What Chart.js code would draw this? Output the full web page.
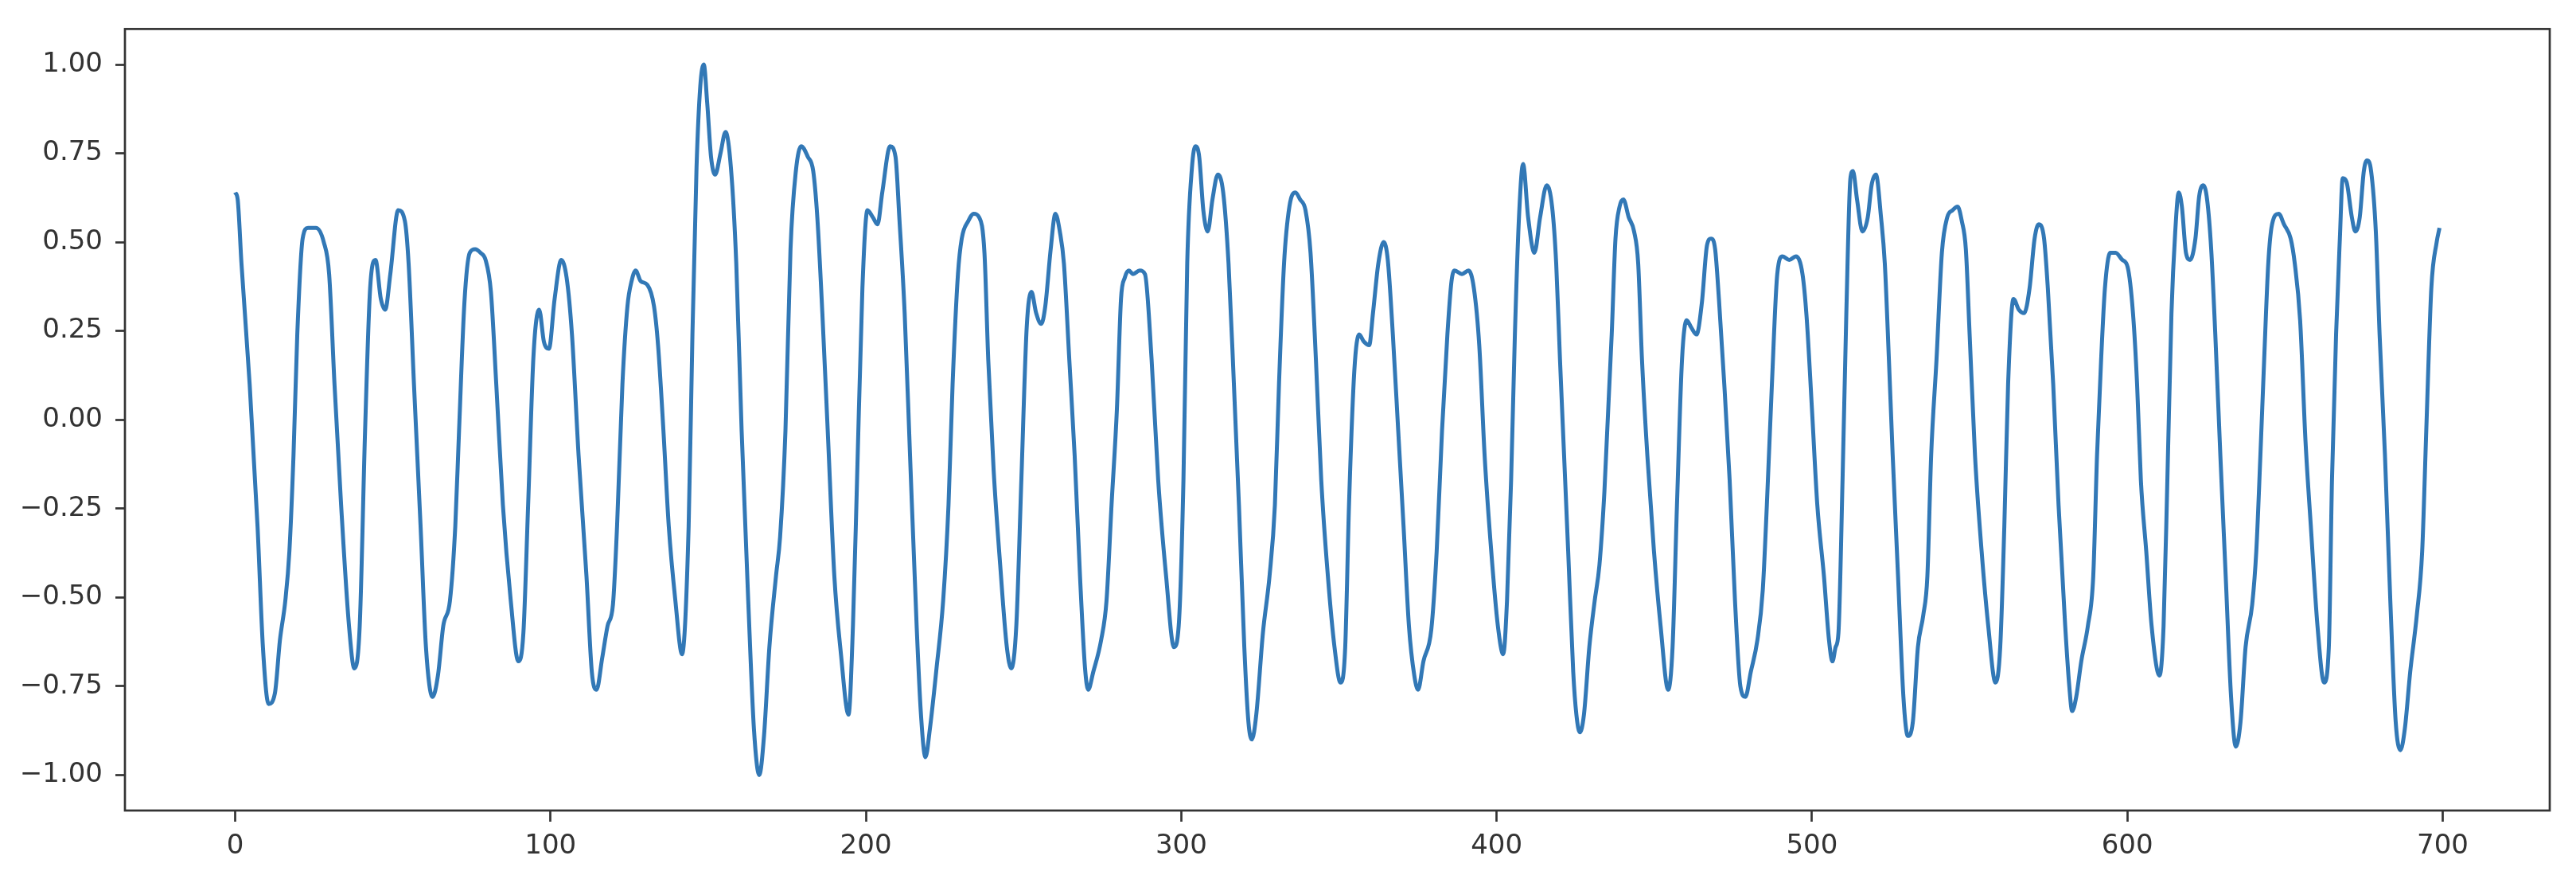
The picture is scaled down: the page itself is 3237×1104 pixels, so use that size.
<!DOCTYPE html>
<html>
<head>
<meta charset="utf-8">
<title>signal</title>
<script src="https://cdn.jsdelivr.net/npm/chart.js@4.4.1/dist/chart.umd.min.js"></script>
<style>
  html, body { margin: 0; padding: 0; background: #fff; }
  #wrap { width: 3237px; height: 1104px; }
</style>
</head>
<body>
<div id="wrap"><canvas id="sigChart" width="3237" height="1104"></canvas></div>
<script>
// sample positions (x axis)
const sampleIdx = [
    0, 0.8, 2.0, 4.6, 7.1, 8.8, 10.6, 12.6, 14.2, 15.9, 17.2, 18.5, 19.7, 21.4, 23.1, 25.6, 28.1, 29.8,
    31.5, 33.6, 36.1, 37.8, 39.5, 41.2, 42.8, 44.5, 46.2, 47.6, 49.2, 51.7, 53.8, 55.0, 56.7, 58.8,
    60.5, 62.6, 64.3, 66.0, 68.1, 69.8, 71.0, 72.7, 74.4, 76.1, 77.8, 79.4, 81.1, 82.8, 84.9, 87.4,
    89.8, 91.4, 92.9, 94.6, 96.4, 97.9, 99.5, 101.3, 103.4, 105.1, 106.8, 108.9, 111.4, 113.1, 114.6,
    116.4, 118.1, 119.8, 121.1, 122.8, 124.4, 125.7, 127.0, 128.6, 130.7, 132.8, 134.1, 135.8, 137.5,
    139.6, 141.7, 143.8, 145.0, 146.3, 147.5, 148.6, 149.7, 150.9, 152.2, 153.9, 155.5, 157.2, 158.9,
    160.6, 162.7, 164.5, 166.2, 167.7, 169.4, 171.5, 172.8, 174.5, 176.1, 177.8, 179.5, 181.6, 183.3,
    184.6, 186.2, 187.9, 190.0, 192.1, 194.5, 195.9, 197.2, 198.9, 200.5, 202.2, 203.7, 205.2, 207.7,
    209.4, 210.6, 212.3, 214.0, 216.1, 217.4, 218.9, 220.3, 222.4, 224.5, 226.2, 227.5, 229.2, 230.4,
    232.5, 234.2, 235.9, 237.6, 238.8, 240.5, 242.6, 244.7, 246.1, 247.7, 249.3, 251.0, 252.5, 254.0,
    255.6, 256.9, 258.6, 260.1, 261.5, 262.8, 264.5, 266.2, 267.9, 269.5, 270.5, 272.1, 274.6, 276.3,
    277.9, 279.6, 280.9, 282.1, 283.4, 284.7, 286.8, 288.5, 290.6, 292.7, 295.2, 297.7, 299.2, 300.7,
    301.9, 303.4, 304.5, 305.7, 307.0, 308.4, 309.9, 311.6, 313.3, 315.0, 316.7, 318.3, 320.0, 321.3,
    322.4, 323.8, 325.9, 328.0, 329.7, 331.0, 332.6, 334.3, 336.2, 337.7, 339.4, 341.0, 342.7, 344.4,
    346.5, 348.6, 350.5, 352.0, 353.2, 354.9, 356.4, 357.9, 359.6, 360.8, 362.5, 364.2, 365.5, 367.1,
    368.8, 370.5, 372.2, 373.9, 375.1, 376.8, 379.3, 381.0, 382.7, 384.4, 385.7, 386.7, 389.0, 391.1,
    392.8, 394.5, 396.2, 398.3, 400.4, 402.1, 403.3, 404.6, 405.8, 407.1, 408.4, 410.0, 412.0, 413.8,
    415.9, 417.6, 418.9, 420.1, 421.4, 422.7, 424.3, 425.3, 426.4, 427.7, 429.4, 431.1, 432.6, 434.2,
    436.5, 437.7, 439.0, 440.2, 441.9, 443.6, 444.9, 446.1, 447.8, 449.9, 452.0, 454.4, 455.8, 457.2,
    458.8, 460.3, 461.7, 463.4, 465.1, 466.7, 468.0, 469.3, 470.5, 472.2, 473.9, 475.6, 477.3, 478.9,
    480.6, 482.7, 484.4, 485.7, 487.3, 489.0, 490.7, 492.8, 494.9, 497.0, 498.3, 500.0, 501.7, 503.8,
    505.4, 506.5, 507.5, 508.4, 509.7, 510.9, 512.2, 513.0, 514.3, 516.0, 517.7, 518.9, 520.3, 521.9,
    523.1, 524.4, 525.6, 527.3, 529.0, 530.4, 532.0, 533.6, 535.3, 536.6, 537.8, 539.5, 541.2, 542.9,
    544.6, 546.2, 547.5, 548.8, 550.0, 551.7, 553.8, 555.9, 558.2, 559.7, 561.0, 562.2, 563.9, 565.6,
    567.3, 569.0, 570.6, 571.9, 573.6, 574.8, 576.5, 578.2, 580.3, 581.6, 582.5, 583.8, 585.4, 587.5,
    589.2, 590.4, 591.7, 592.9, 594.6, 596.3, 598.4, 600.1, 601.8, 603.1, 604.3, 606.0, 607.7, 610.2,
    611.5, 612.7, 614.0, 615.2, 616.3, 617.3, 618.6, 619.9, 621.6, 622.8, 624.1, 625.3, 626.6, 627.9,
    629.5, 631.2, 632.9, 634.4, 635.9, 637.5, 639.6, 640.9, 642.2, 643.4, 644.7, 645.9, 648.0, 649.7,
    651.8, 653.1, 654.8, 656.5, 658.2, 660.3, 662.4, 663.9, 664.9, 666.2, 667.4, 668.3, 669.5, 671.2,
    672.3, 673.7, 675.0, 676.0, 677.3, 678.8, 680.0, 681.7, 683.4, 685.1, 686.6, 688.0, 689.7, 691.8,
    693.5, 694.8, 696.4, 698.1, 699
];

// signal value at each of those positions
const signal = [
    0.64, 0.62, 0.44, 0.10, -0.30, -0.64, -0.80, -0.77, -0.62, -0.51, -0.37, -0.10, 0.24, 0.51, 0.54, 0.54, 0.50, 0.41,
    0.10, -0.24, -0.58, -0.70, -0.58, -0.03, 0.37, 0.45, 0.34, 0.31, 0.41, 0.59, 0.56, 0.44, 0.10, -0.30,
    -0.64, -0.78, -0.72, -0.58, -0.51, -0.30, -0.03, 0.33, 0.47, 0.48, 0.47, 0.45, 0.36, 0.10, -0.24, -0.51,
    -0.68, -0.60, -0.24, 0.18, 0.31, 0.22, 0.20, 0.34, 0.45, 0.40, 0.24, -0.10, -0.44, -0.71, -0.76,
    -0.67, -0.58, -0.52, -0.30, 0.10, 0.32, 0.39, 0.42, 0.39, 0.38, 0.32, 0.21, -0.03, -0.30,
    -0.51, -0.66, -0.30, 0.24, 0.71, 0.94, 1.00, 0.89, 0.74, 0.69, 0.75, 0.81, 0.71, 0.44,
    -0.03, -0.51, -0.87, -1.00, -0.89, -0.64, -0.44, -0.33, -0.03, 0.48, 0.70, 0.77, 0.74, 0.70,
    0.57, 0.30, -0.03, -0.44, -0.66, -0.83, -0.58, -0.17, 0.37, 0.59, 0.57, 0.55, 0.64, 0.77,
    0.74, 0.57, 0.30, -0.10, -0.58, -0.82, -0.95, -0.87, -0.70, -0.51, -0.24, 0.10, 0.41, 0.51,
    0.56, 0.58, 0.57, 0.47, 0.17, -0.14, -0.41, -0.64, -0.70, -0.58, -0.17, 0.26, 0.36, 0.30,
    0.27, 0.32, 0.48, 0.58, 0.53, 0.44, 0.17, -0.10, -0.44, -0.70, -0.76, -0.71, -0.62, -0.51,
    -0.24, 0.03, 0.34, 0.40, 0.42, 0.41, 0.42, 0.41, 0.17, -0.17, -0.44, -0.64, -0.58, -0.17,
    0.44, 0.71, 0.77, 0.74, 0.59, 0.53, 0.62, 0.69, 0.64, 0.44, 0.10, -0.24, -0.64, -0.85,
    -0.90, -0.83, -0.60, -0.44, -0.24, 0.10, 0.44, 0.60, 0.64, 0.62, 0.59, 0.47, 0.17, -0.17,
    -0.44, -0.64, -0.74, -0.64, -0.24, 0.14, 0.24, 0.22, 0.21, 0.30, 0.44, 0.50, 0.45, 0.24,
    -0.03, -0.30, -0.58, -0.72, -0.76, -0.68, -0.59, -0.37, -0.03, 0.24, 0.39, 0.42, 0.41, 0.42,
    0.37, 0.21, -0.10, -0.37, -0.58, -0.66, -0.51, -0.17, 0.24, 0.57, 0.72, 0.57, 0.47, 0.57,
    0.66, 0.60, 0.44, 0.17, -0.10, -0.37, -0.71, -0.83, -0.88, -0.83, -0.64, -0.51, -0.41, -0.20,
    0.24, 0.51, 0.60, 0.62, 0.57, 0.53, 0.44, 0.17, -0.10, -0.37, -0.58, -0.76, -0.64, -0.24,
    0.17, 0.28, 0.26, 0.24, 0.33, 0.49, 0.51, 0.48, 0.34, 0.10, -0.17, -0.51, -0.75, -0.78,
    -0.71, -0.62, -0.48, -0.24, 0.10, 0.41, 0.46, 0.45, 0.46, 0.41, 0.29, 0.03, -0.24, -0.44,
    -0.62, -0.68, -0.64, -0.60, -0.17, 0.30, 0.68, 0.70, 0.62, 0.53, 0.57, 0.66, 0.69, 0.57,
    0.44, 0.17, -0.10, -0.44, -0.78, -0.89, -0.85, -0.64, -0.55, -0.44, -0.10, 0.17, 0.47, 0.57,
    0.59, 0.60, 0.56, 0.48, 0.24, -0.10, -0.37, -0.58, -0.74, -0.64, -0.30, 0.10, 0.34, 0.31,
    0.30, 0.37, 0.51, 0.55, 0.51, 0.37, 0.10, -0.24, -0.58, -0.75, -0.82, -0.78, -0.68, -0.58,
    -0.44, -0.10, 0.17, 0.37, 0.47, 0.47, 0.45, 0.43, 0.30, 0.10, -0.17, -0.37, -0.58, -0.72,
    -0.58, -0.17, 0.30, 0.53, 0.64, 0.60, 0.47, 0.45, 0.51, 0.63, 0.66, 0.62, 0.48, 0.24,
    -0.10, -0.44, -0.78, -0.92, -0.85, -0.64, -0.52, -0.37, -0.10, 0.17, 0.44, 0.55, 0.58, 0.55,
    0.51, 0.44, 0.28, -0.06, -0.30, -0.58, -0.74, -0.64, -0.17, 0.24, 0.51, 0.68, 0.67, 0.57,
    0.53, 0.57, 0.70, 0.73, 0.70, 0.53, 0.24, -0.10, -0.51, -0.85, -0.93, -0.87, -0.71, -0.55,
    -0.37, -0.03, 0.37, 0.50, 0.54
];

const xTicks = [0, 100, 200, 300, 400, 500, 600, 700];
const yTicks = [-1.00, -0.75, -0.50, -0.25, 0.00, 0.25, 0.50, 0.75, 1.00];

const xRange = [-34.95, 733.95];
const yRange = [-1.1, 1.1];

const points = sampleIdx.map((x, i) => ({ x: x, y: signal[i] }));

const inkColor = '#333333';
const tickFont = { family: "'DejaVu Sans', sans-serif", size: 34 };

// matplotlib style minus sign
function fmtY(v) {
    const s = Math.abs(v).toFixed(2);
    return v < 0 ? '\u2212' + s : s;
}

// box around the plot area (all four spines)
const frameBox = {
    id: 'frameBox',
    afterDraw(chart) {
        const a = chart.chartArea;
        const ctx = chart.ctx;
        ctx.save();
        ctx.strokeStyle = inkColor;
        ctx.lineWidth = 2.7;
        ctx.strokeRect(a.left, a.top, a.right - a.left, a.bottom - a.top);
        ctx.restore();
    }
};

new Chart(document.getElementById('sigChart').getContext('2d'), {
    type: 'line',
    data: {
        datasets: [{
            data: points,
            borderColor: '#3278b6',
            borderWidth: 5,
            pointRadius: 0,
            fill: false,
            cubicInterpolationMode: 'monotone'
        }]
    },
    options: {
        responsive: false,
        animation: false,
        devicePixelRatio: 1,
        layout: { padding: { top: 29, right: 33, left: 0, bottom: 0 } },
        plugins: { legend: { display: false }, tooltip: { enabled: false } },
        scales: {
            x: {
                type: 'linear',
                min: xRange[0],
                max: xRange[1],
                afterBuildTicks: axis => { axis.ticks = xTicks.map(v => ({ value: v })); },
                afterFit: axis => { axis.height = 86; },
                border: { display: false },
                grid: {
                    drawOnChartArea: false,
                    drawTicks: true,
                    tickLength: 14,
                    tickWidth: 2.7,
                    tickColor: inkColor
                },
                ticks: {
                    autoSkip: false,
                    maxRotation: 0,
                    padding: 11,
                    color: inkColor,
                    font: tickFont,
                    callback: v => String(v)
                }
            },
            y: {
                type: 'linear',
                min: yRange[0],
                max: yRange[1],
                afterBuildTicks: axis => { axis.ticks = yTicks.map(v => ({ value: v })); },
                afterFit: axis => { axis.width = 157; },
                border: { display: false },
                grid: {
                    drawOnChartArea: false,
                    drawTicks: true,
                    tickLength: 12,
                    tickWidth: 2.7,
                    tickColor: inkColor
                },
                ticks: {
                    autoSkip: false,
                    padding: 16,
                    color: inkColor,
                    font: tickFont,
                    callback: v => fmtY(v)
                }
            }
        }
    },
    plugins: [frameBox]
});
</script>
</body>
</html>
